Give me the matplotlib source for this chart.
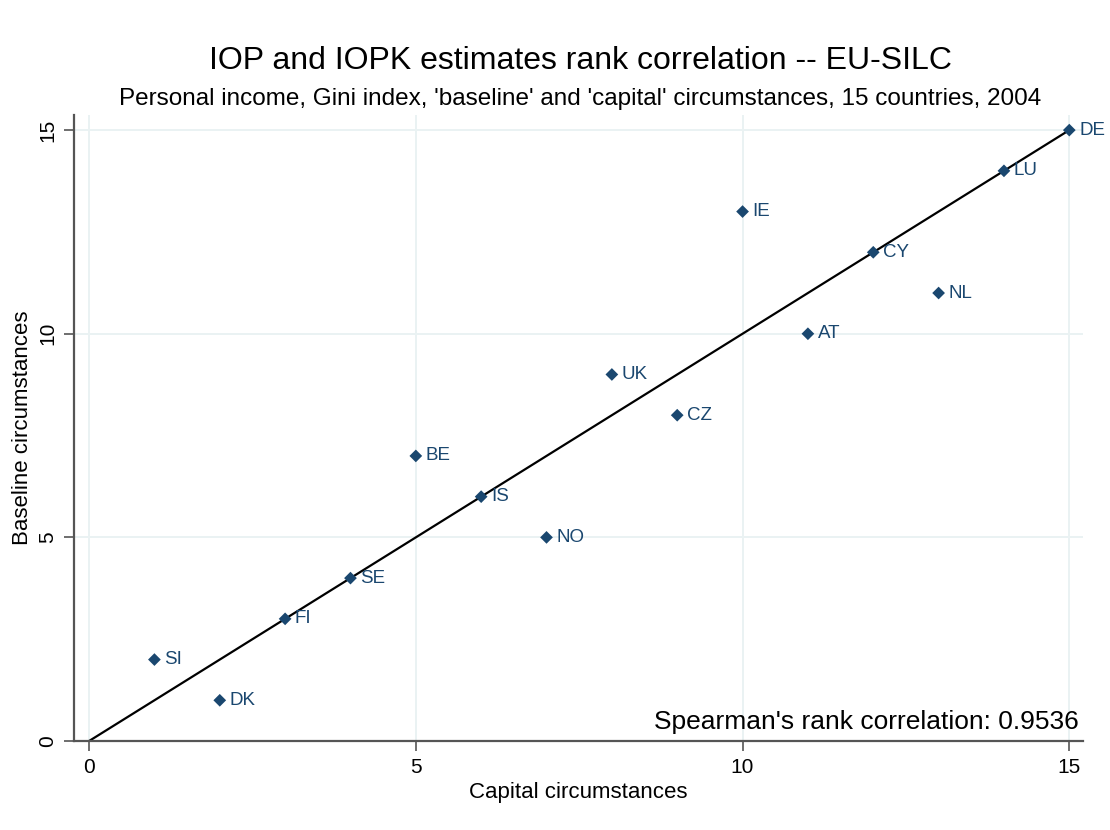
"""IOP vs IOPK rank correlation scatter (EU-SILC)."""

import matplotlib
matplotlib.use('Agg')
import matplotlib.pyplot as plt


countries = ['DE', 'LU', 'IE', 'CY', 'NL', 'AT', 'UK', 'CZ',
             'BE', 'IS', 'NO', 'SE', 'FI', 'SI', 'DK']
capital_rank = [15, 14, 10, 12, 13, 11, 8, 9, 5, 6, 7, 4, 3, 1, 2]
baseline_rank = [15, 14, 13, 12, 11, 10, 9, 8, 7, 6, 5, 4, 3, 2, 1]
ticks = [0, 5, 10, 15]
spearman = 0.9536

NAVY = '#1a476f'
GRID = '#eaf2f3'
AXIS = '#555555'

plt.rcParams.update({
    'font.family': ['Liberation Sans', 'DejaVu Sans'],
})

fig = plt.figure(figsize=(11.1, 8.3), dpi=100)
ax = fig.add_axes([0.0667, 0.1072, 0.9090, 0.7542])

ax.plot([0, 15], [0, 15], color='black', linewidth=1.6, zorder=2)
ax.scatter(capital_rank, baseline_rank, marker='D', s=42, color=NAVY,
           edgecolor='none', zorder=3)
for c, x, y in zip(countries, capital_rank, baseline_rank):
    ax.annotate(c, (x, y), xytext=(7, 0), textcoords='offset points',
                ha='left', va='center', color=NAVY, fontsize=13.5)

ax.set_xlim(-0.23, 15.21)
ax.set_ylim(0, 15.37)
ax.set_xticks(ticks)
ax.set_yticks(ticks)
ax.tick_params(axis='both', labelsize=15, colors='black', length=7,
               width=1.2, color=AXIS, pad=5)
for lab in ax.get_yticklabels():
    lab.set_rotation(90)
    lab.set_va('center')

ax.grid(True, color=GRID, linewidth=1.4, zorder=0)
ax.set_axisbelow(True)
for side in ['top', 'right']:
    ax.spines[side].set_visible(False)
for side in ['left', 'bottom']:
    ax.spines[side].set_color(AXIS)
    ax.spines[side].set_linewidth(1.6)

ax.set_xlabel('Capital circumstances', fontsize=16, labelpad=4)
ax.set_ylabel('Baseline circumstances', fontsize=16, labelpad=4)

ax.text(0.9955, 0.03, "Spearman's rank correlation: %.4f" % spearman,
        transform=ax.transAxes, ha='right', va='center', fontsize=19)

fig.text(0.523, 0.927, 'IOP and IOPK estimates rank correlation -- EU-SILC',
         ha='center', va='center', fontsize=23)
fig.text(0.523, 0.881, "Personal income, Gini index, 'baseline' and 'capital' "
         "circumstances, 15 countries, 2004",
         ha='center', va='center', fontsize=17.5)

fig.savefig('out.png', dpi=100)
